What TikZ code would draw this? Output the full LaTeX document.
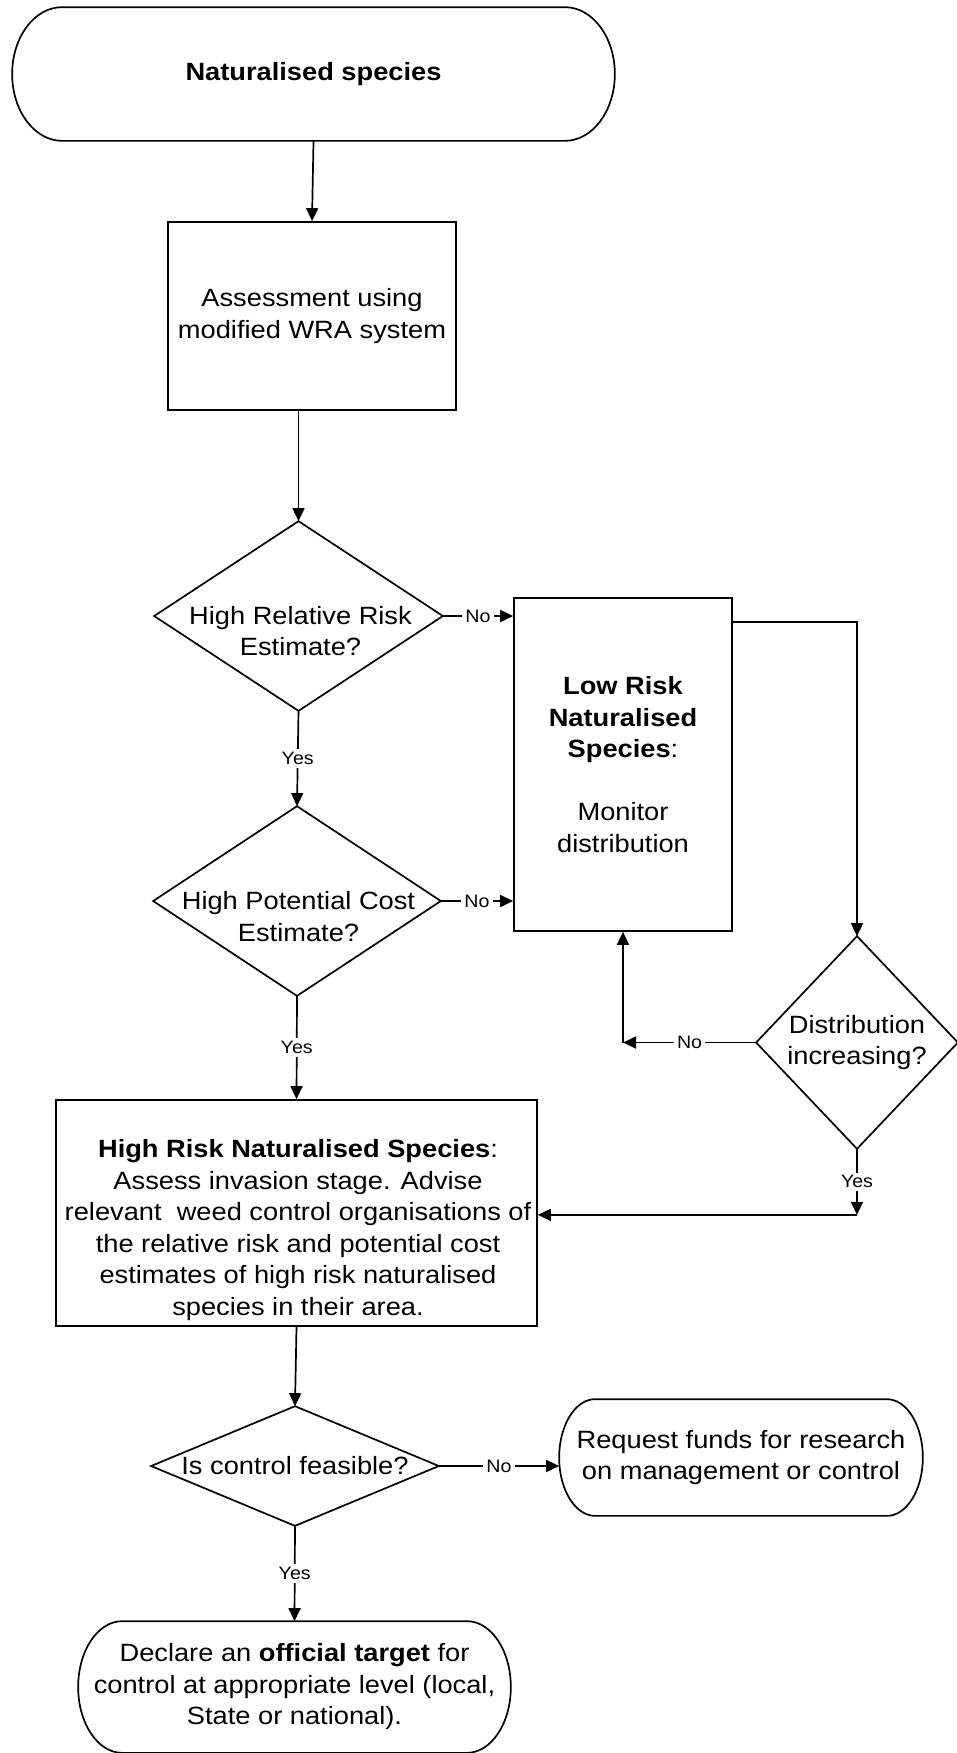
\documentclass[tikz,border=0pt]{standalone}
\usepackage{fontspec}
\setmainfont{Liberation Sans}[FakeStretch=1.09]
\usetikzlibrary{arrows.meta,calc}
\newcommand\chartfs{\fontsize{12.5pt}{15.75pt}\selectfont}
\newcommand\lblfs{\fontsize{9pt}{11pt}\selectfont}
\newcommand\termoutline[2]{%
  \draw let \p1=(#1.north west), \p2=(#1.south east) in
    (\x1+#2,\y1) -- (\x2-#2,\y1)
    arc[start angle=90,end angle=-90,x radius=#2,y radius={(\y1-\y2)/2}]
    -- (\x1+#2,\y2)
    arc[start angle=270,end angle=90,x radius=#2,y radius={(\y1-\y2)/2}]
    -- cycle;}
\newcommand\diaoutline[1]{\draw (#1.north) -- (#1.east) -- (#1.south) -- (#1.west) -- cycle;}
\begin{document}
\begin{tikzpicture}[x=0.5pt, y=-0.5pt, line width=0.85pt,
  >={Triangle[length=6.5pt,width=6pt]},
  box/.style={draw, rectangle, inner sep=0pt, align=center, font=\chartfs},
  shapebox/.style={rectangle, inner sep=0pt, align=center, font=\chartfs},
  txt/.style={inner sep=0pt, align=center, font=\chartfs},
  lbl/.style={fill=white, inner sep=1.5pt, font=\lblfs}]
\path[fill=white] (0,0) rectangle (957,1753);
\useasboundingbox (0,0) rectangle (957,1753);

% nodes
\node[shapebox, minimum width=300.5pt, minimum height=66pt] (T) at (313.5,74) {\textbf{Naturalised species}};
\node[box, minimum width=144pt, minimum height=94pt] (A) at (312,316) {Assessment using\\modified WRA system};
\node[shapebox, minimum width=143.5pt, minimum height=94pt] (D1) at (298.5,616) {};
\node[txt] (D1t) at (300.5,631) {High Relative Risk\\Estimate?};
\node[box, minimum width=109pt, minimum height=166.5pt] (L) at (623,764.5)
  {\textbf{Low Risk}\\\textbf{Naturalised}\\\textbf{Species}:\\[15.75pt]Monitor\\distribution};
\node[shapebox, minimum width=143pt, minimum height=94pt] (D2) at (297,901) {};
\node[txt] (D2t) at (298.5,916.5) {High Potential Cost\\Estimate?};
\node[shapebox, minimum width=100pt, minimum height=105.5pt] (D3) at (857,1042.5) {Distribution\\increasing?};
\node[box, minimum width=240.5pt, minimum height=113pt] (B) at (296.5,1213) {};
\node[txt] (Bt) at (298,1230) {\textbf{High Risk Naturalised Species}:\\ Assess invasion stage. Advise\\relevant\ \ weed control organisations of\\the relative risk and potential cost\\estimates of high risk naturalised\\species in their area.};
\node[shapebox, minimum width=143pt, minimum height=59pt] (D4) at (295,1466) {Is control feasible?};
\node[shapebox, minimum width=181pt, minimum height=57.5pt] (R) at (741,1457.5) {Request funds for research\\on management or control};
\node[shapebox, minimum width=215.5pt, minimum height=65pt] (E) at (294.5,1687) {Declare an \textbf{official target} for\\control at appropriate level (local,\\State or national).};

% outlines
\termoutline{T}{25pt}
\termoutline{R}{18pt}
\termoutline{E}{22pt}
\diaoutline{D1}
\diaoutline{D2}
\diaoutline{D3}
\diaoutline{D4}

% connectors
\draw[->] (T.south) -- (A.north);
\draw[->] (A.south -| D1.north) -- (D1.north);
\draw[->] (D1.south) -- node[lbl]{Yes} (D2.north);
\draw[->] (D1.east) -- node[lbl]{No} (D1.east -| L.west);
\draw[->] (D2.east) -- node[lbl]{No} (D2.east -| L.west);
\draw[->] (D2.south) -- node[lbl]{Yes} (B.north);
\coordinate (Lr) at ($(L.north east)+(0,25)$);
\draw[->] (Lr) -| (D3.north);
\coordinate (cNo) at (L.south |- D3.west);
\draw[->] (D3.west) -- node[lbl]{No} (cNo);
\draw[->] (cNo) -- (L.south);
\coordinate (cYes) at ($(D3.south)+(0,66)$);
\draw[->] (D3.south) -- node[lbl]{Yes} (cYes);
\draw[->] (cYes) -- (cYes -| B.east);
\draw[->] (B.south) -- (D4.north);
\draw[->] (D4.east) -- node[lbl]{No} (D4.east -| R.west);
\draw[->] (D4.south) -- node[lbl]{Yes} (E.north);
\end{tikzpicture}
\end{document}
